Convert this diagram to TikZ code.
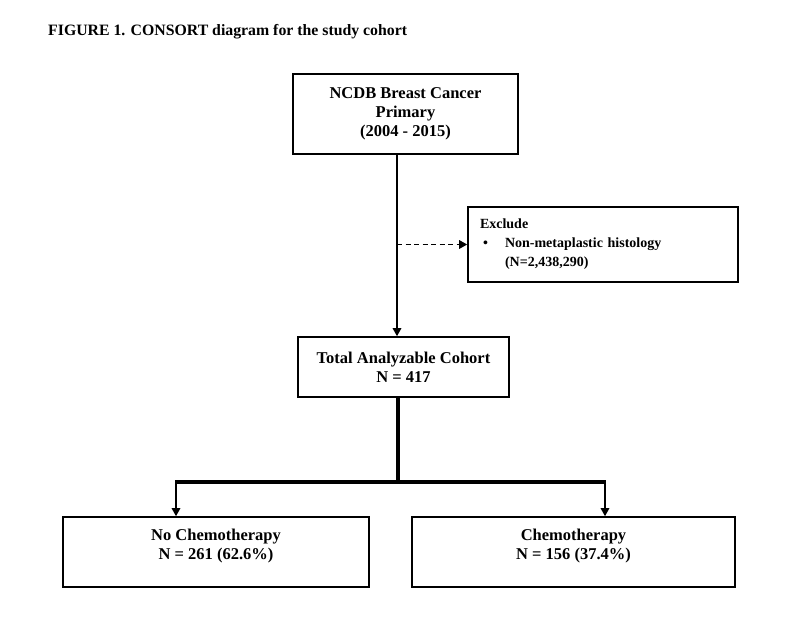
\documentclass[tikz,border=0pt]{standalone}
\usepackage{fontspec}
\setmainfont{Liberation Serif}
\usetikzlibrary{arrows.meta}
\begin{document}
\begin{tikzpicture}[x=1pt,y=-1pt,
  box/.style={draw=black,line width=1.6pt,rectangle,inner sep=0pt,font=\fontsize{16.5}{19}\selectfont\bfseries,align=center},
  txt/.style={inner sep=0pt,font=\fontsize{16.5}{19}\selectfont\bfseries,align=center},
  tip/.style={-{Triangle[length=8pt,width=8.5pt]}},
  conn/.style={line width=1.5pt,tip},
  thick line/.style={line width=3.2pt},
]
\useasboundingbox (0,0) rectangle (800,629);
\node[anchor=west,inner sep=0pt,font=\fontsize{15.8}{18}\selectfont\bfseries] (title) at (48,32) {FIGURE 1. CONSORT diagram for the study cohort};

\node[box,minimum width=225pt,minimum height=80pt] (top) at (405.5,114)
  {NCDB Breast Cancer\\Primary\\(2004 - 2015)};
\node[box,minimum width=270pt,minimum height=75pt,text width=246pt,align=left,font=\fontsize{14}{19}\selectfont\bfseries] (excl) at (603,244.5)
  {Exclude\\\makebox[25pt][l]{\hspace{3pt}\textbullet}Non-metaplastic histology\\\hspace*{25pt}(N=2,438,290)};
\node[box,minimum width=211pt,minimum height=60pt] (total) at (403.5,367)
  {Total Analyzable Cohort\\N = 417};
\node[box,minimum width=306pt,minimum height=70pt] (left) at (216,552) {};
\node[txt] (lefttext) at (216,546) {No Chemotherapy\\N = 261 (62.6\%)};
\node[box,minimum width=323pt,minimum height=70pt] (right) at (573.5,552) {};
\node[txt] (righttext) at (573.5,546) {Chemotherapy\\N = 156 (37.4\%)};

\coordinate (vx) at (397,0);
\coordinate (split) at (398,482);
\coordinate (lx) at (176,482);
\coordinate (rx) at (605,482);

\draw[conn] (top.south -| vx) -- (total.north -| vx);
\draw[line width=1.5pt,dash pattern=on 5pt off 3.5pt,tip] (vx |- excl.west) -- (excl.west);
\draw[thick line] (total.south -| split) -- (split);
\draw[thick line] ([xshift=-0.7pt]lx) -- ([xshift=0.7pt]rx);
\draw[conn] (lx) -- (left.north -| lx);
\draw[conn] (rx) -- (right.north -| rx);
\end{tikzpicture}
\end{document}
